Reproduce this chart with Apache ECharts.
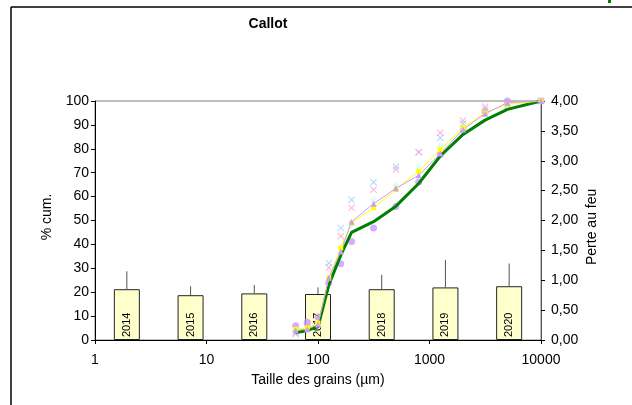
<!DOCTYPE html>
<html>
<head>
<meta charset="utf-8">
<script src="https://cdn.jsdelivr.net/npm/echarts@6/dist/echarts.min.js"></script>
<style>html,body{margin:0;padding:0;background:#fff}#c{width:632px;height:405px}</style>
</head>
<body>
<div id="c"></div>
<script>
// Grain sizes (µm)
const sizes = [63, 80, 100, 125, 160, 200, 315, 500, 800, 1250, 2000, 3150, 5000, 10000];
// Cumulative % series
const greenLine   = [3, 4, 5.5, 23, 35.5, 45, 49.5, 56, 65.5, 77, 86, 92, 96.5, 100];
const yellowLine  = [4.5, 5, 7, 26, 38.5, 49, 55.3, 63, 70.6, 79.7, 88.8, 95, 98.6, 100];
const lavenderLine= [4, 4.5, 6.5, 26, 37, 49.5, 57, 63.5, 68.9, 78, 88.1, 94.7, 99.3, 100];
const cyanPts     = [3.5, 4, 6, 25, 35, 48, 58.7, 64.6, 72.5, 81.4, 89.2, 95.4, 98.6, 100];
const blueX       = [2.5, 5.6, 6.7, 32.2, 46.9, 58.7, 66, 72.5, 78.6, 84.6, 90.6, 96.5, 98, 100];
const pinkX       = [3, 5, 6.5, 30.3, 43.4, 55.3, 62.9, 71.3, 78.6, 86.7, 91.8, 97.6, 99, 100];
const purpleDots  = [6, 7.4, 9.6, 23.8, 31.9, 41.2, 46.9, 55.9, 66, 77.6, 87.8, 95.4, 100, 100];
// Loss on ignition bars (right axis)
const years   = ['2014', '2015', '2016', '2017', '2018', '2019', '2020'];
const perte   = [0.85, 0.75, 0.78, 0.77, 0.85, 0.88, 0.90];
const perteErr= [1.15, 0.90, 0.92, 0.88, 1.09, 1.34, 1.28];
// Tick labels
const xTicks = [1, 10, 100, 1000, 10000];

const pairs = arr => sizes.map((s, i) => [s, arr[i]]);
const xShape = 'path://M0,1L1,0L5,4L9,0L10,1L6,5L10,9L9,10L5,6L1,10L0,9L4,5Z';
const FONT = 'Liberation Sans';

const chart = echarts.init(document.getElementById('c'));
chart.setOption({
  animation: false,
  backgroundColor: '#fff',
  textStyle: { fontFamily: FONT },
  grid: { left: 95, right: 91, top: 101, bottom: 65, show: true, borderColor: '#808080', borderWidth: 1, backgroundColor: 'transparent' },
  graphic: [
    { type: 'line', shape: { x1: 11, y1: 7, x2: 11, y2: 405 }, style: { stroke: '#000', lineWidth: 1.5 } },
    { type: 'line', shape: { x1: 11, y1: 7, x2: 632, y2: 7 }, style: { stroke: '#000', lineWidth: 1.5 } },
    { type: 'rect', shape: { x: 608, y: 0, width: 3, height: 3 }, style: { fill: '#008000' } },
    { type: 'text', x: 268, y: 24, style: { text: 'Callot', font: 'bold 14px "Liberation Sans"', fill: '#000', align: 'center', verticalAlign: 'middle' } },
    { type: 'text', x: 47, y: 217, rotation: Math.PI / 2, style: { text: '% cum.', font: '14px "Liberation Sans"', fill: '#000', align: 'center', verticalAlign: 'middle' } },
    { type: 'text', x: 592, y: 265, rotation: Math.PI / 2, style: { text: 'Perte au feu', font: '14px "Liberation Sans"', fill: '#000', align: 'left', verticalAlign: 'middle' } },
    { type: 'text', x: 318, y: 380, style: { text: 'Taille des grains (µm)', font: '14px "Liberation Sans"', fill: '#000', align: 'center', verticalAlign: 'middle' } }
  ],
  xAxis: [
    { type: 'log', logBase: 10, min: 1, max: 10000, position: 'bottom',
      axisLine: { lineStyle: { color: '#000', width: 1 } },
      axisTick: { show: true, length: 4, lineStyle: { color: '#000' } },
      axisLabel: { color: '#000', fontSize: 14, margin: 13, fontFamily: FONT,
        formatter: v => xTicks.includes(Math.round(v)) ? String(Math.round(v)) : '' },
      splitLine: { show: false }, minorTick: { show: false } },
    { type: 'category', data: years, position: 'bottom', boundaryGap: true,
      axisLine: { show: false }, axisTick: { show: false }, axisLabel: { show: false }, splitLine: { show: false } }
  ],
  yAxis: [
    { type: 'value', min: 0, max: 100, interval: 10, position: 'left',
      axisLine: { show: true, lineStyle: { color: '#000' } },
      axisTick: { show: true, length: 4, lineStyle: { color: '#000' } },
      axisLabel: { color: '#000', fontSize: 14, margin: 6, fontFamily: FONT },
      splitLine: { show: false } },
    { type: 'value', min: 0, max: 4, interval: 0.5, position: 'right',
      axisLine: { show: true, lineStyle: { color: '#555' } },
      axisTick: { show: true, length: 4, lineStyle: { color: '#000' } },
      axisLabel: { color: '#000', fontSize: 14, margin: 10, fontFamily: FONT,
        formatter: v => v.toFixed(2).replace('.', ',') },
      splitLine: { show: false } }
  ],
  series: [
    { type: 'bar', xAxisIndex: 1, yAxisIndex: 1, data: perte, barWidth: 26,
      itemStyle: { color: '#FFFFCC', borderColor: '#222', borderWidth: 1 },
      label: { show: true, position: 'insideBottom', rotate: 90, align: 'left', verticalAlign: 'middle',
        distance: 3, formatter: '{b}', fontSize: 11, color: '#000', fontFamily: FONT } },
    { type: 'custom', xAxisIndex: 1, yAxisIndex: 1,
      data: years.map((y, i) => [i, perte[i], perteErr[i]]),
      renderItem: (params, api) => {
        const p1 = api.coord([api.value(0), api.value(1)]);
        const p2 = api.coord([api.value(0), api.value(2)]);
        return { type: 'line', shape: { x1: p1[0], y1: p1[1], x2: p2[0], y2: p2[1] }, style: { stroke: '#555', lineWidth: 1 } };
      } },
    { type: 'line', data: pairs(greenLine), showSymbol: false, symbol: 'none',
      lineStyle: { color: '#008000', width: 3 }, itemStyle: { color: '#008000' } },
    { type: 'line', data: pairs(yellowLine), symbol: 'rect', symbolSize: 5,
      lineStyle: { color: '#FFFF00', width: 1 }, itemStyle: { color: '#FFFF00' } },
    { type: 'line', data: pairs(lavenderLine), symbol: 'triangle', symbolSize: 6,
      lineStyle: { color: '#CC99FF', width: 1 }, itemStyle: { color: '#CC99FF' } },
    { type: 'scatter', data: pairs(cyanPts), symbol: 'diamond', symbolSize: 7, itemStyle: { color: '#CCFFFF' } },
    { type: 'scatter', data: pairs(blueX), symbol: xShape, symbolSize: 7, itemStyle: { color: '#99CCFF' } },
    { type: 'scatter', data: pairs(pinkX), symbol: xShape, symbolSize: 7, itemStyle: { color: '#FF99CC' } },
    { type: 'scatter', data: pairs(purpleDots), symbol: 'circle', symbolSize: 7, itemStyle: { color: '#CC99FF' } }
  ]
});
</script>
</body>
</html>
